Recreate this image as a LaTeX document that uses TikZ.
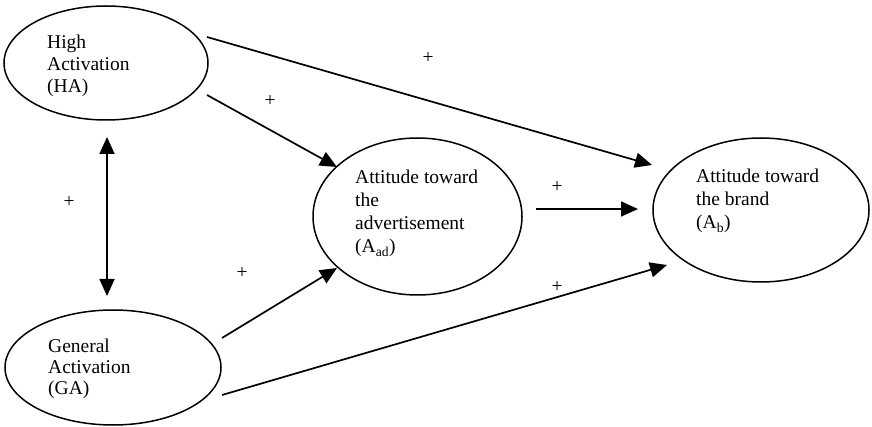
\documentclass[tikz,border=0pt]{standalone}
\usepackage{fontspec}
\setmainfont{Liberation Serif}
\usetikzlibrary{shapes.geometric,arrows.meta}

\begin{document}
\begin{tikzpicture}[x=1pt,y=-1pt,
  construct/.style={ellipse, draw, line width=1.5pt, inner sep=0pt, outer sep=0pt},
  % anchored at the baseline of the last line
  label/.style={anchor=base west, align=left, inner sep=0pt,
    font=\fontsize{19.5}{#1}\selectfont},
  label/.default=23,
  sign/.style={inner sep=0pt, font=\fontsize{19.5}{23}\selectfont},
  path/.style={line width=1.7pt, -{Triangle[length=17pt,width=15pt]}},
  twoway/.style={line width=1.7pt, {Triangle[length=17pt,width=15pt]}-{Triangle[length=17pt,width=15pt]}}]

\useasboundingbox (0,0) rectangle (872,427);

% constructs
\node[construct, minimum width=204pt, minimum height=114pt] (HA)  at (106,63)    {};
\node[construct, minimum width=216pt, minimum height=115pt] (GA)  at (113,367.5) {};
\node[construct, minimum width=209pt, minimum height=157pt] (Aad) at (417.5,216.5) {};
\node[construct, minimum width=216pt, minimum height=144pt] (Ab)  at (761,210)   {};

% construct names
\node[label=22] (HAtext)  at (47,93)   {High\\Activation\\(HA)};
\node[label=21] (GAtext)  at (48,394)  {General\\Activation\\(GA)};
\node[label=23] (Aadtext) at (355,253) {Attitude toward\\the\\advertisement\\(A\textsubscript{ad})};
\node[label=23] (Abtext)  at (696,229) {Attitude toward\\the brand\\(A\textsubscript{b})};

% connector ends
\coordinate (ha-e1) at (207,37);
\coordinate (ha-e2) at (207,95);
\coordinate (ga-e1) at (222,338);
\coordinate (ga-e2) at (222,395);
\coordinate (aad-e) at (536,209);
\coordinate (ab-in1) at (652,165);
\coordinate (ab-in2) at (638,209);
\coordinate (ab-in3) at (667,265);
\coordinate (aad-in1) at (337,167);
\coordinate (aad-in2) at (337,268);
\coordinate (ha-s) at (107,137);
\coordinate (ga-n) at (107,296);

% paths
\draw[path] (ha-e1) -- (ab-in1);
\draw[path] (ha-e2) -- (aad-in1);
\draw[path] (ga-e1) -- (aad-in2);
\draw[path] (ga-e2) -- (ab-in3);
\draw[path] (aad-e) -- (ab-in2);
\draw[twoway] (ha-s) -- (ga-n);

% signs
\node[sign] (s1) at (428,58)  {+};
\node[sign] (s2) at (270,101) {+};
\node[sign] (s3) at (69,202)  {+};
\node[sign] (s4) at (557,187) {+};
\node[sign] (s5) at (242,273) {+};
\node[sign] (s6) at (557,287) {+};
\end{tikzpicture}
\end{document}
